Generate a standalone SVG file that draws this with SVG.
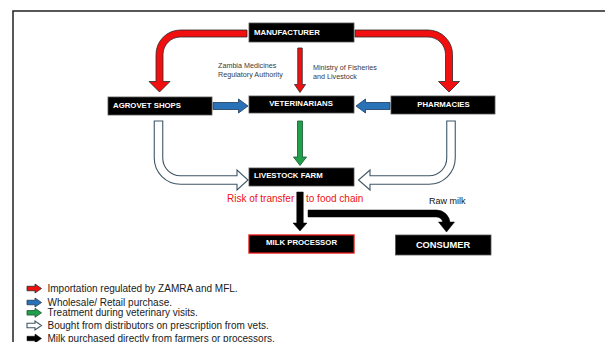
<svg xmlns="http://www.w3.org/2000/svg" width="605" height="342" viewBox="0 0 605 342">
<style>
.box{fill:#000;stroke:#555;stroke-width:0.8}
.nt{font-family:"Liberation Sans",Arial,sans-serif;font-weight:bold;font-size:7.8px;fill:#fff}
.lbl{font-family:"Liberation Sans",Arial,sans-serif;font-size:7.2px;fill:#3a3a3a}
.leg{font-family:"Liberation Sans",Arial,sans-serif;font-size:10px;fill:#1a1a1a}
.red{fill:#f20f0f;stroke:#2a2a2a;stroke-width:0.8;stroke-linejoin:miter}
.blue{fill:#2a72b8;stroke:#1c3a5e;stroke-width:0.8}
.green{fill:#20a04a;stroke:#1a5530;stroke-width:0.8}
.hollow{fill:#fff;stroke:#3f5666;stroke-width:1.1}
.black{fill:#000;stroke:#000;stroke-width:0.5}
</style>
<rect x="0" y="0" width="605" height="342" fill="#fff"/>
<rect x="13" y="11" width="620" height="360" fill="none" stroke="#222" stroke-width="1.5"/>

<g id="connectors">
  <path class="red" d="M 247 30 H 180.5 A 24.5 24.5 0 0 0 156 54.5 V 81.5 H 149 L 159.5 92 L 170 81.5 H 163 V 54.5 A 17.5 17.5 0 0 1 180.5 37 H 247 Z"/>
  <path class="red" d="M 355 30 H 428 A 24.5 24.5 0 0 1 452.5 54.5 V 81.5 H 459.5 L 449 92 L 438.5 81.5 H 445.5 V 54.5 A 17.5 17.5 0 0 0 428 37 H 355 Z"/>
  <path class="red" d="M 297.75 48 H 302.25 V 84.5 H 305.5 L 300 92.5 L 294.5 84.5 H 297.75 Z"/>
  <path class="blue" d="M 213 102.5 H 238.5 V 99 L 248 106 L 238.5 113 V 109.5 H 213 Z"/>
  <path class="blue" d="M 390 102.5 H 365.5 V 99 L 356 106 L 365.5 113 V 109.5 H 390 Z"/>
  <path class="green" d="M 297.5 121 H 302.5 V 157 H 306.5 L 300 165.5 L 293.5 157 H 297.5 Z"/>
  <path class="hollow" d="M 154.25 121 H 162.75 V 158 A 17.75 17.75 0 0 0 180.5 175.75 H 237 V 170 L 248 180 L 237 190 V 184.25 H 180.5 A 26.25 26.25 0 0 1 154.25 158 Z"/>
  <path class="hollow" d="M 455.25 121 H 446.75 V 158 A 17.75 17.75 0 0 1 429 175.75 H 370 V 170 L 358.5 180 L 370 190 V 184.25 H 429 A 26.25 26.25 0 0 0 455.25 158 Z"/>
  <path class="black" d="M 296.75 192 H 303.25 V 223 H 307 L 300 231 L 293 223 H 296.75 Z"/>
  <path class="black" d="M 308 210 H 436.5 A 13.5 13.5 0 0 1 450 223.5 V 222 H 454.5 L 446.5 232 L 438.5 222 H 443 V 223.5 A 6.5 6.5 0 0 0 436.5 217 H 308 Z"/>
</g>

<g id="manufacturer"><rect class="box" x="249" y="23" width="105" height="19"/><text class="nt" x="254" y="34.5">MANUFACTURER</text></g>
<g id="agrovet"><rect class="box" x="108" y="97" width="104" height="18"/><text class="nt" x="113" y="107.5">AGROVET SHOPS</text></g>
<g id="veterinarians"><rect class="box" x="249" y="96" width="105" height="17"/><text class="nt" x="301" y="105.5" text-anchor="middle">VETERINARIANS</text></g>
<g id="pharmacies"><rect class="box" x="391" y="96" width="104" height="18"/><text class="nt" x="443.5" y="106.5" text-anchor="middle">PHARMACIES</text></g>
<g id="livestock"><rect class="box" x="249" y="168" width="105" height="18"/><text class="nt" x="254" y="178">LIVESTOCK FARM</text></g>
<g id="processor"><rect x="249" y="235" width="105" height="18" fill="#000" stroke="#e01010" stroke-width="1.3"/><text class="nt" x="301.5" y="245" text-anchor="middle">MILK PROCESSOR</text></g>
<g id="consumer"><rect class="box" x="395.5" y="235" width="95.5" height="20"/><text class="nt" x="443" y="247.5" text-anchor="middle" style="font-size:9.3px">CONSUMER</text></g>

<g id="labels">
  <text class="lbl" x="218" y="68.3">Zambia Medicines</text>
  <text class="lbl" x="218" y="77">Regulatory Authority</text>
  <text class="lbl" x="313" y="70">Ministry of Fisheries</text>
  <text class="lbl" x="313" y="78.5">and Livestock</text>
  <text x="227" y="202" style="font-family:'Liberation Sans',Arial,sans-serif;font-size:10px;fill:#ee1111">Risk of transfer</text>
  <text x="306" y="202" style="font-family:'Liberation Sans',Arial,sans-serif;font-size:10px;fill:#ee1111">to food chain</text>
  <text x="429" y="204" style="font-family:'Liberation Sans',Arial,sans-serif;font-size:9px;fill:#111">Raw milk</text>
</g>

<g id="legend">
  <path class="red" d="M 27 286.25 H 35 V 284 L 41.5 288.5 L 35 293 V 290.75 H 27 Z"/>
  <path class="blue" d="M 27 300.25 H 35 V 298 L 41.5 302.5 L 35 307 V 304.75 H 27 Z"/>
  <path class="green" d="M 27 310.55 H 35 V 308.3 L 41.5 312.8 L 35 317.3 V 315.05 H 27 Z"/>
  <path class="hollow" d="M 27 323.25 H 35 V 321 L 41.5 325.5 L 35 330 V 327.75 H 27 Z"/>
  <path class="black" d="M 27 336.25 H 35 V 334 L 41.5 338.5 L 35 343 V 340.75 H 27 Z"/>
  <text class="leg" x="47.5" y="292">Importation regulated by ZAMRA and MFL.</text>
  <text class="leg" x="47.5" y="306">Wholesale/ Retail purchase.</text>
  <text class="leg" x="47.5" y="316.3">Treatment during veterinary visits.</text>
  <text class="leg" x="47.5" y="329">Bought from distributors on prescription from vets.</text>
  <text class="leg" x="47.5" y="342">Milk purchased directly from farmers or processors.</text>
</g>
</svg>
